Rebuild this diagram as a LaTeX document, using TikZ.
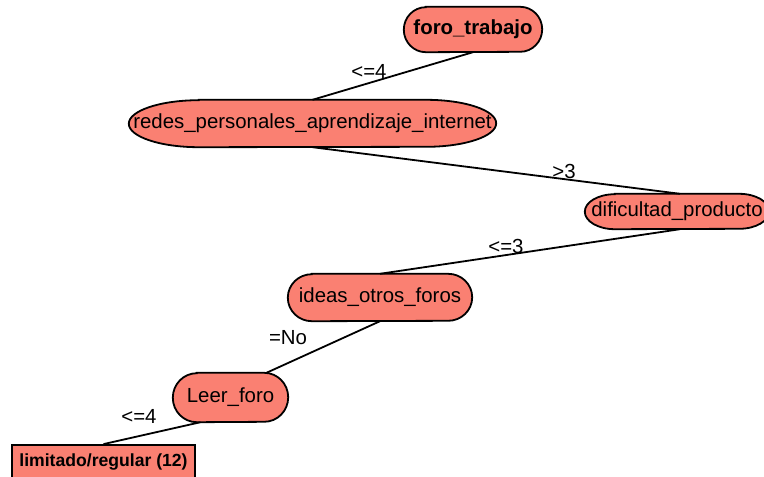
\documentclass[tikz,border=0pt]{standalone}
\usepackage{fontspec}
\setmainfont{Liberation Sans}
\usetikzlibrary{calc}
\pgfdeclarelayer{background}
\pgfsetlayers{background,main}
\definecolor{nodefill}{RGB}{250,128,114}

% capsule outline behind a node: #1 node, #2 width of each rounded end, #3 half height
\newcommand\capsuleshape[3]{%
  \begin{pgfonlayer}{background}
    \begin{scope}
      \clip (0,0) rectangle (764,-477);
      \filldraw[capsule]
        ($(#1.north west)+(#2pt,0)$) -- ($(#1.north east)+(-#2pt,0)$)
        arc[start angle=90,end angle=-90,x radius=#2pt,y radius=#3pt]
        -- ($(#1.south west)+(#2pt,0)$)
        arc[start angle=270,end angle=90,x radius=#2pt,y radius=#3pt] -- cycle;
    \end{scope}
  \end{pgfonlayer}}

\begin{document}
\begin{tikzpicture}[x=1pt,y=1pt,
  capsule/.style={fill=nodefill,draw=black,line width=1.8pt},
  split/.style={inner sep=0pt,font=\fontsize{20.4}{24}\selectfont},
  leafbox/.style={draw=black,fill=nodefill,line width=1.8pt,inner sep=0pt,
    font=\fontsize{17.6}{21}\selectfont\bfseries},
  edgelabel/.style={inner sep=0pt,font=\fontsize{20.4}{24}\selectfont},
  branch/.style={line width=1.8pt,draw=black}]
\useasboundingbox (0,0) rectangle (764,-477);
\clip (0,0) rectangle (764,-477);

% split nodes
\node[split,minimum width=138pt,minimum height=45pt] (foro) at (473,-29.5) {\bfseries foro\_trabajo};
\capsuleshape{foro}{22}{22.5}
\node[split,minimum width=367pt,minimum height=47pt] (redes) at (312.5,-123.5) {redes\_personales\_aprendizaje\_internet};
\capsuleshape{redes}{70}{23.5}
\node[split,minimum width=184pt,minimum height=35pt] (dif) at (677,-211.5) {dificultad\_producto};
\capsuleshape{dif}{30}{17.5}
\node[split,minimum width=184pt,minimum height=47pt] (ideas) at (380,-297.5) {ideas\_otros\_foros};
\capsuleshape{ideas}{24}{23.5}
\node[split,minimum width=115pt,minimum height=49pt] (leer) at (230.5,-397.5) {Leer\_foro};
\capsuleshape{leer}{24}{24.5}

% leaf
\node[leafbox,minimum width=183pt,minimum height=34pt] (leaf) at (103.5,-462) {limitado/regular (12)};

% branches
\draw[branch] (foro.south) -- (redes.north);
\draw[branch] (redes.south) -- ($(dif.north)+(3,0)$);
\draw[branch] ($(dif.south)+(3,0)$) -- (ideas.north);
\draw[branch] (ideas.south) -- ($(leer.north)+(36,0)$);
\draw[branch] ($(leer.south)+(-30,0)$) -- (leaf.north);

% branch labels
\node[edgelabel] (l1) at (369,-71) {<=4};
\node[edgelabel] (l2) at (564,-171) {>3};
\node[edgelabel] (l3) at (506,-246) {<=3};
\node[edgelabel] (l4) at (288,-338) {=No};
\node[edgelabel] (l5) at (139,-416) {<=4};
\end{tikzpicture}
\end{document}
